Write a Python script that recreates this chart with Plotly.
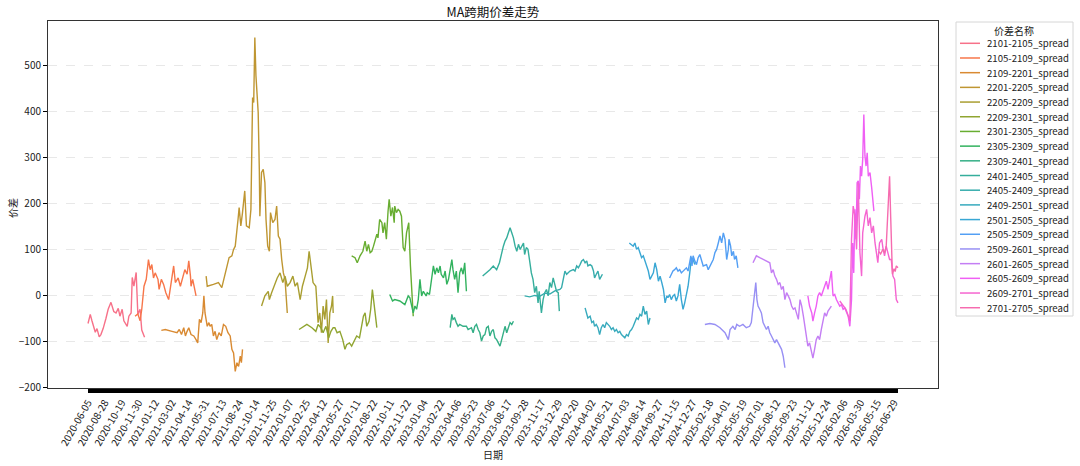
import math
import plotly.graph_objects as go

# 价差名称 (图例顺序)
spread_names = [
    "2101-2105_spread", "2105-2109_spread", "2109-2201_spread", "2201-2205_spread",
    "2205-2209_spread", "2209-2301_spread", "2301-2305_spread", "2305-2309_spread",
    "2309-2401_spread", "2401-2405_spread", "2405-2409_spread", "2409-2501_spread",
    "2501-2505_spread", "2505-2509_spread", "2509-2601_spread", "2601-2605_spread",
    "2605-2609_spread", "2609-2701_spread", "2701-2705_spread",
]

# x 轴: 交易日序号, 每 30 个交易日一个刻度标签
n_days = 1448
date_labels = [
    "2020-06-05", "2020-08-28", "2020-10-19", "2020-11-30", "2021-01-12", "2021-03-02",
    "2021-04-14", "2021-05-31", "2021-07-13", "2021-08-24", "2021-10-14", "2021-11-25",
    "2022-01-07", "2022-02-25", "2022-04-12", "2022-05-27", "2022-07-11", "2022-08-22",
    "2022-10-11", "2022-11-22", "2023-01-04", "2023-02-22", "2023-04-06", "2023-05-23",
    "2023-07-06", "2023-08-17", "2023-09-28", "2023-11-17", "2023-12-29", "2024-02-20",
    "2024-04-02", "2024-05-21", "2024-07-03", "2024-08-14", "2024-09-27", "2024-11-15",
    "2024-12-27", "2025-02-18", "2025-04-01", "2025-05-19", "2025-07-01", "2025-08-12",
    "2025-09-23", "2025-11-12", "2025-12-24", "2026-02-06", "2026-03-30", "2026-05-15",
    "2026-06-29",
]
tick_step = 30

# 各价差序列 (交易日序号, 价差)
x_2101_2105 = [0, 4, 7, 13, 16, 20, 23, 27, 32, 36, 41, 46, 50, 54, 57, 61, 64, 70, 73, 77, 79, 82, 86, 89, 93, 96, 101]
y_2101_2105 = [-61, -41, -55, -80, -72, -90, -85, -72, -50, -30, -15, -35, -38, -28, -45, -30, -55, -67, -45, -38, 39, 20, 50, -41, -30, -75, -91]

x_2105_2109 = [84, 89, 93, 96, 100, 104, 108, 111, 114, 117, 120, 125, 127, 131, 135, 139, 144, 148, 153, 156, 161, 165, 169, 173, 177, 180, 183, 184, 187, 191, 193]
y_2105_2109 = [-45, -40, -55, -30, 20, 35, 78, 56, 67, 38, 49, 35, 13, 35, 24, 6, -9, 20, 64, 28, 38, 20, 38, 56, 46, 75, 42, 20, 35, 13, -1]

x_2109_2201 = [131, 138, 150, 159, 163, 167, 171, 174, 177, 180, 184, 189, 193, 196, 199, 202, 205, 207, 209, 213,
               216, 218, 221, 224, 227, 230, 234, 238, 242, 246, 250, 254, 257, 260, 263, 266, 269, 272, 274, 276]
y_2109_2201 = [-76, -74, -78, -81, -74, -85, -70, -88, -78, -70, -85, -88, -96, -103, -52, -59, -38, -1, -38, -67,
               -59, -67, -63, -88, -78, -96, -81, -88, -63, -67, -81, -88, -117, -125, -165, -146, -154, -132, -146, -117]

x_2201_2205 = [211, 213, 224, 233, 239, 245, 252, 257, 260, 263, 266, 268, 270, 273, 276, 280, 283, 288, 291, 293, 294, 296,
               298, 300, 302, 304, 306, 307, 310, 313, 316, 318, 321, 324, 326, 330, 334, 337, 340, 343, 346, 349, 352, 356]
y_2201_2205 = [42, 20, 24, 28, 17, 49, 82, 86, 100, 107, 136, 165, 191, 151, 180, 227, 151, 147, 187, 310, 430, 419,
               560, 477, 433, 397, 274, 172, 267, 274, 245, 165, 107, 96, 180, 158, 165, 194, 129, 122, 78, 49, 35, -38]

x_2205_2209 = [310, 316, 322, 324, 328, 334, 338, 343, 348, 352, 356, 361, 366, 370, 374, 379, 383,
               388, 392, 395, 398, 402, 407, 411, 414, 417, 420, 423, 426, 429, 432, 435, 437, 438]
y_2205_2209 = [-23, -1, 9, -9, 6, 28, 38, 49, 28, 42, 20, 28, 42, 20, 28, -9, 20,
               42, 60, 96, 64, 28, 20, -59, -38, -81, -23, -52, -9, -103, -38, -23, -1, -38]

x_2209_2301 = [377, 385, 391, 400, 407, 411, 416, 420, 425, 430, 434, 438, 441, 445, 450, 455,
               459, 462, 467, 471, 475, 480, 485, 492, 495, 498, 502, 505, 508, 511, 513, 516]
y_2209_2301 = [-74, -67, -63, -70, -78, -63, -70, -81, -67, -92, -78, -70, -70, -81, -78, -96,
               -117, -107, -103, -110, -99, -88, -92, -45, -38, -67, -56, -30, 13, -23, -45, -70]

x_2301_2305 = [471, 477, 481, 486, 491, 495, 498, 501, 504, 507, 510, 513, 516, 518, 521, 525, 527, 530,
               533, 536, 538, 541, 544, 547, 548, 551, 554, 557, 560, 563, 566, 569, 573, 576, 578, 581]
y_2301_2305 = [86, 82, 71, 86, 96, 118, 96, 111, 93, 96, 107, 118, 133, 125, 165, 158, 136, 158,
               122, 183, 209, 172, 191, 158, 194, 180, 187, 183, 172, 104, 96, 136, 158, 64, 6, -45]

x_2305_2309 = [539, 544, 548, 557, 566, 569, 572, 575, 578, 581, 584, 587, 590, 593, 596, 599, 604, 606, 610, 614, 617,
               620, 623, 626, 629, 631, 635, 638, 641, 644, 647, 650, 652, 655, 658, 661, 664, 667, 670, 673, 676]
y_2305_2309 = [2, -12, -9, -12, -20, -12, -1, -5, -20, -38, -23, -30, -9, 35, -1, 9, -1, 6, 2, 35, 64,
               46, 60, 49, 64, 46, 38, 53, 24, 35, 53, 78, 56, 35, 53, 6, 49, 60, 46, 71, 9]

x_2309_2401 = [647, 650, 652, 655, 658, 661, 664, 670, 676, 679, 685, 688, 691, 694, 697, 700, 703, 706,
               709, 712, 715, 718, 721, 724, 727, 730, 733, 736, 739, 742, 745, 748, 751, 754, 757, 760]
y_2309_2401 = [-70, -41, -52, -49, -59, -67, -63, -67, -67, -74, -70, -81, -67, -63, -74, -81, -99, -88,
               -85, -70, -67, -88, -78, -74, -92, -96, -103, -110, -96, -81, -67, -81, -67, -59, -63, -56]

x_2401_2405 = [705, 712, 718, 724, 730, 735, 739, 742, 745, 748, 751, 754, 757, 760, 763, 766, 769, 772, 778, 780, 783,
               786, 789, 792, 795, 798, 801, 804, 806, 809, 810, 813, 816, 819, 822, 825, 828, 831, 834, 837, 840, 842]
y_2401_2405 = [42, 49, 56, 64, 56, 71, 93, 107, 118, 125, 136, 147, 136, 125, 107, 96, 111, 100, 114, 89, 104,
               100, 75, 49, 35, 6, 20, -16, 9, -23, -38, -9, 6, 13, -1, 28, 17, 38, 20, 9, 6, -34]

x_2405_2409 = [780, 789, 798, 807, 816, 825, 834, 843, 846, 849, 852, 855, 858, 861, 867, 870, 873,
               876, 879, 882, 885, 888, 891, 893, 897, 900, 903, 905, 908, 911, 914, 917, 919]
y_2405_2409 = [-1, -3, 0, -2, 5, 3, 10, 13, 17, 35, 53, 46, 49, 53, 56, 53, 64,
               60, 67, 75, 78, 71, 75, 64, 67, 64, 53, 38, 46, 53, 35, 42, 46]

x_2409_2501 = [888, 891, 893, 897, 900, 903, 905, 908, 911, 914, 917, 920, 923, 926, 929, 932, 935, 938, 941, 944,
               947, 950, 953, 956, 959, 962, 965, 968, 971, 974, 977, 980, 983, 986, 989, 992, 995, 998, 1001, 1004]
y_2409_2501 = [-27, -38, -49, -45, -59, -56, -67, -63, -70, -85, -70, -63, -70, -59, -63, -67, -74, -70, -78, -74,
               -81, -78, -85, -88, -92, -85, -88, -78, -74, -67, -59, -49, -52, -41, -45, -23, -41, -34, -63, -49]

x_2501_2505 = [967, 971, 974, 977, 980, 983, 986, 989, 992, 995, 998, 1001, 1004, 1007, 1010, 1013, 1016, 1019, 1022, 1025,
               1028, 1031, 1034, 1036, 1039, 1042, 1045, 1048, 1051, 1054, 1057, 1060, 1063, 1066, 1069, 1072, 1075, 1078, 1081, 1084]
y_2501_2505 = [114, 111, 107, 114, 100, 104, 93, 82, 86, 75, 67, 53, 35, 42, 49, 71, 56, 31, 42, 28,
               13, -16, -1, -5, 2, -9, -1, 2, -12, -1, 24, -9, -30, -16, -1, 20, 49, 82, 78, 67]

x_2505_2509 = [1039, 1042, 1045, 1048, 1051, 1054, 1057, 1060, 1063, 1066, 1069, 1072, 1075, 1077, 1079, 1081, 1084, 1087, 1090, 1093, 1099,
               1105, 1108, 1111, 1114, 1117, 1120, 1123, 1126, 1129, 1132, 1135, 1138, 1141, 1144, 1145, 1148, 1150, 1153, 1155, 1158, 1161]
y_2505_2509 = [38, 46, 53, 56, 60, 53, 56, 49, 53, 56, 60, 53, 78, 86, 64, 86, 75, 67, 82, 89, 64,
               67, 56, 64, 71, 78, 93, 100, 114, 129, 114, 136, 122, 78, 100, 122, 107, 86, 96, 78, 86, 60]

x_2509_2601 = [1102, 1111, 1120, 1129, 1138, 1144, 1147, 1150, 1152, 1156, 1159, 1164, 1170, 1176, 1182, 1185, 1188, 1191, 1193,
               1195, 1197, 1200, 1203, 1206, 1209, 1212, 1215, 1218, 1221, 1224, 1227, 1230, 1233, 1236, 1239, 1242, 1245]
y_2509_2601 = [-63, -61, -63, -70, -81, -96, -74, -70, -67, -74, -63, -67, -63, -70, -67, -59, -23, 20, 28,
               -9, -23, -30, -38, -59, -67, -74, -67, -81, -88, -96, -103, -96, -103, -107, -117, -132, -157]

x_2601_2605 = [1188, 1194, 1200, 1206, 1212, 1218, 1221, 1224, 1227, 1230, 1233, 1236, 1239, 1242, 1245, 1248, 1251, 1254, 1257, 1260, 1263,
               1266, 1269, 1272, 1275, 1278, 1281, 1284, 1286, 1289, 1293, 1295, 1298, 1301, 1304, 1307, 1310, 1313, 1316, 1319, 1322, 1328]
y_2601_2605 = [71, 86, 82, 78, 75, 71, 49, 56, 42, 35, 24, 28, 13, 20, -9, 6, -1, -9, -23, -30, -27,
               -38, -52, -9, -23, -45, -74, -103, -110, -103, -121, -136, -117, -96, -88, -96, -74, -52, -38, -45, -34, -23]

x_2605_2609 = [1286, 1289, 1293, 1295, 1298, 1301, 1304, 1307, 1310, 1313, 1316, 1319, 1322, 1325, 1328, 1331, 1334, 1337, 1340, 1343, 1346, 1349, 1352,
               1355, 1358, 1361, 1364, 1366, 1368, 1370, 1372, 1374, 1376, 1378, 1380, 1382, 1384, 1386, 1388, 1390, 1392, 1394, 1397, 1400, 1403, 1404]
y_2605_2609 = [-1, -23, -38, -56, -38, -23, -1, 6, -1, 9, 20, 31, 13, 31, 53, -1, 2, -9, -16, -23, -20, -30, -27,
               -38, -45, -67, -9, 114, 49, 187, 122, 245, 249, 209, 281, 259, 296, 393, 303, 281, 310, 259, 267, 234, 205, 183]

x_2609_2701 = [1343, 1347, 1350, 1354, 1357, 1361, 1364, 1367, 1370, 1373, 1376, 1379, 1382, 1384, 1388, 1391, 1394, 1397,
               1400, 1403, 1406, 1409, 1411, 1414, 1418, 1420, 1423, 1426, 1429, 1432, 1435, 1438, 1441, 1444, 1447]
y_2609_2701 = [-12, -18, -25, -30, -40, -55, 122, 194, 172, 100, 245, 93, 42, 136, 172, 187, 151, 169,
               136, 151, 114, 93, 71, 114, 122, 104, 86, 107, 93, 78, 78, 42, 35, -9, -16]

x_2701_2705 = [1413, 1416, 1420, 1423, 1426, 1429, 1432, 1434, 1435, 1437, 1440, 1442, 1444, 1447]
y_2701_2705 = [95, 90, 100, 92, 107, 180, 259, 170, 100, 46, 58, 52, 64, 60]

series_x = [x_2101_2105, x_2105_2109, x_2109_2201, x_2201_2205, x_2205_2209, x_2209_2301, x_2301_2305,
            x_2305_2309, x_2309_2401, x_2401_2405, x_2405_2409, x_2409_2501, x_2501_2505, x_2505_2509,
            x_2509_2601, x_2601_2605, x_2605_2609, x_2609_2701, x_2701_2705]
series_y = [y_2101_2105, y_2105_2109, y_2109_2201, y_2201_2205, y_2205_2209, y_2209_2301, y_2301_2305,
            y_2305_2309, y_2309_2401, y_2401_2405, y_2405_2409, y_2409_2501, y_2501_2505, y_2505_2509,
            y_2509_2601, y_2601_2605, y_2605_2609, y_2609_2701, y_2701_2705]


# husl 调色板 (与 seaborn 的 husl_palette 相同的算法)
_M = [[3.2406, -1.5372, -0.4986], [-0.9689, 1.8758, 0.0415], [0.0557, -0.2040, 1.0570]]


def _max_chroma(L, H):
    hrad = math.radians(H)
    sin_h, cos_h = math.sin(hrad), math.cos(hrad)
    sub1 = (L + 16) ** 3 / 1560896.0
    sub2 = sub1 if sub1 > 0.008856 else L / 903.3
    result = float("inf")
    for m1, m2, m3 in _M:
        top = (0.99915 * m1 + 1.05122 * m2 + 1.14460 * m3) * sub2
        rbottom = 0.86330 * m3 - 0.17266 * m2
        lbottom = 0.12949 * m3 - 0.38848 * m1
        bottom = (rbottom * sin_h + lbottom * cos_h) * sub2
        for t in (0.0, 1.0):
            c = L * (top - 1.05122 * t) / (bottom + 0.17266 * sin_h * t)
            if 0 < c < result:
                result = c
    return result


def husl_to_hex(h, s, l):
    c = _max_chroma(l, h) / 100.0 * s
    u = math.cos(math.radians(h)) * c
    v = math.sin(math.radians(h)) * c
    t = (l + 16.0) / 116.0
    var_y = t ** 3 if t ** 3 > 0.008856 else (116.0 * t - 16.0) / 903.3
    var_u = u / (13.0 * l) + 0.19784
    var_v = v / (13.0 * l) + 0.46834
    Y = var_y
    X = -(9.0 * Y * var_u) / ((var_u - 4.0) * var_v - var_u * var_v)
    Z = (9.0 * Y - 15.0 * var_v * Y - var_v * X) / (3.0 * var_v)
    rgb = []
    for row in _M:
        lin = row[0] * X + row[1] * Y + row[2] * Z
        val = 12.92 * lin if lin <= 0.0031308 else 1.055 * lin ** (1 / 2.4) - 0.055
        rgb.append(min(max(val, 0.0), 1.0))
    return "#%02x%02x%02x" % tuple(int(round(ch * 255)) for ch in rgb)


n = len(spread_names)
colors = [husl_to_hex(((i / n + 0.01) % 1) * 359, 0.9 * 99, 0.65 * 99) for i in range(n)]

font_family = "Noto Sans CJK SC, Noto Sans, sans-serif"

# 绘图区在页面上的像素位置 (页面 body 外边距在写出时置 0)
PLOT_LEFT, PLOT_RIGHT, PLOT_TOP, PLOT_BOTTOM = 48, 938, 21, 388
plot_w = PLOT_RIGHT - PLOT_LEFT
plot_h = PLOT_BOTTOM - PLOT_TOP
fig_w, fig_h = 1080, 466


def px(sx):
    return (sx - PLOT_LEFT) / plot_w


def py(sy):
    return (PLOT_BOTTOM - sy) / plot_h


fig = go.Figure()
for name, xs, ys, color in zip(spread_names, series_x, series_y, colors):
    fig.add_trace(go.Scatter(x=xs, y=ys, mode="lines", name=name,
                             line=dict(color=color, width=1.4)))

# 图例 (手工绘制, 行距与原图一致)
shapes = [dict(type="rect", xref="paper", yref="paper",
               x0=px(956), x1=px(1073), y0=py(316), y1=py(22),
               line=dict(color="#d6d6d6", width=1), fillcolor="white", layer="below")]
annotations = [dict(text="价差名称", xref="paper", yref="paper", x=px(1014), y=py(30.5),
                    showarrow=False, xanchor="center", yanchor="middle", font=dict(size=10))]
row_gap = 14.69
for i, (name, color) in enumerate(zip(spread_names, colors)):
    row_y = 43.3 + i * row_gap
    shapes.append(dict(type="line", xref="paper", yref="paper",
                       x0=px(960), x1=px(980), y0=py(row_y), y1=py(row_y),
                       line=dict(color=color, width=1.5)))
    annotations.append(dict(text=name, xref="paper", yref="paper", x=px(985), y=py(row_y),
                            showarrow=False, xanchor="left", yanchor="middle",
                            font=dict(size=9.6)))

# 坐标轴标题
annotations.append(dict(text="日期", xref="paper", yref="paper", x=px(493), y=py(454),
                        showarrow=False, xanchor="center", yanchor="middle", font=dict(size=10)))
annotations.append(dict(text="价差", xref="paper", yref="paper", x=px(12), y=py(208),
                        showarrow=False, xanchor="center", yanchor="middle", textangle=-90,
                        font=dict(size=10)))

fig.update_layout(
    width=fig_w,
    height=fig_h,
    margin=dict(l=PLOT_LEFT, r=fig_w - PLOT_RIGHT, t=PLOT_TOP, b=fig_h - PLOT_BOTTOM, pad=0),
    paper_bgcolor="white",
    plot_bgcolor="white",
    font=dict(family=font_family, size=10, color="#222222"),
    title=dict(text="MA跨期价差走势", x=0.5, xref="paper",
               y=1 - 12.5 / fig_h, yref="container",
               xanchor="center", yanchor="middle", font=dict(size=12.5, color="#111111")),
    showlegend=False,
    shapes=shapes,
    annotations=annotations,
)

fig.update_xaxes(
    range=[-71.5, 1518.5],
    tickmode="array",
    tickvals=[i * tick_step for i in range(len(date_labels))],
    ticktext=date_labels,
    tickangle=-60,
    ticks="outside", ticklen=4, tickcolor="black",
    minor=dict(tickmode="array", tickvals=list(range(n_days)), ticks="outside",
               ticklen=4, tickcolor="black", tickwidth=1, showgrid=False),
    showgrid=False, zeroline=False,
    showline=True, linecolor="#333333", linewidth=1, mirror=True,
    automargin=False,
)

fig.update_yaxes(
    range=[-201, 596],
    tick0=0, dtick=100,
    ticks="outside", ticklen=4, tickcolor="black",
    showgrid=True, gridcolor="#e8e8e8", griddash="dash", gridwidth=0.8,
    zeroline=False,
    showline=True, linecolor="#333333", linewidth=1, mirror=True,
    automargin=False,
)

fig.write_html("out.html", config={"displayModeBar": False},
               post_script="document.body.style.margin = '0';")
